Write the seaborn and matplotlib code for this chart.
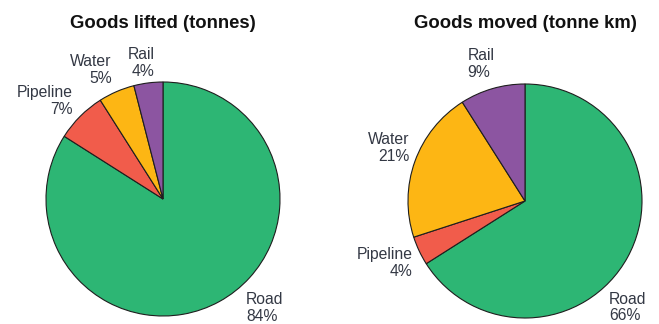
import matplotlib
matplotlib.use("Agg")
import matplotlib.pyplot as plt
import seaborn as sns

# ---- data ----
categories = ["Road", "Pipeline", "Water", "Rail"]
lifted_pct = [84, 7, 5, 4]
moved_pct = [66, 4, 21, 9]
titles = ["Goods lifted (tonnes)", "Goods moved (tonne km)"]

# ---- style ----
sns.set_theme(style="white")
plt.rcParams["font.family"] = ["Liberation Sans", "DejaVu Sans"]
palette = sns.color_palette(["#2db674", "#f15c4b", "#fdb614", "#8c55a1"])

W, H = 659, 324
fig = plt.figure(figsize=(W / 100, H / 100), dpi=100)

R_PX = 117.0   # pie radius in pixels
L = 1.45       # axes half-extent in radius units
centers = [(163, 199), (525, 201)]

# label layout: (x, y, ha, multialignment) in radius units relative to pie centre
label_layouts = [
    {"Road": (0.71, -0.93, "left", "left"), "Pipeline": (-0.77, 0.84, "right", "right"),
     "Water": (-0.44, 1.10, "right", "right"), "Rail": (-0.07, 1.16, "right", "right")},
    {"Road": (0.72, -0.91, "left", "left"), "Pipeline": (-0.96, -0.53, "right", "right"),
     "Water": (-0.99, 0.45, "right", "right"), "Rail": (-0.26, 1.17, "right", "left")},
]

for (cx, cy), vals, title, layout in zip(centers, [lifted_pct, moved_pct], titles, label_layouts):
    size = 2 * L * R_PX
    ax = fig.add_axes([(cx - size / 2) / W, (H - cy - size / 2) / H, size / W, size / H])
    ax.pie(vals, colors=palette, startangle=90, counterclock=False, radius=1.0,
           wedgeprops=dict(edgecolor="#1e1e1e", linewidth=0.8))
    ax.set_xlim(-L, L)
    ax.set_ylim(-L, L)
    ax.set_axis_off()
    for cat, v in zip(categories, vals):
        x, y, ha, ma = layout[cat]
        ax.text(x, y, f"{cat}\n{v}%", ha=ha, va="center", fontsize=11.3,
                color="#333844", linespacing=1.15, multialignment=ma, clip_on=False)
    fig.text(cx / W, 1 - 23 / H, title, ha="center", va="center",
             fontsize=13.3, fontweight="bold", color="#111111")

fig.savefig("out.png", dpi=100)
